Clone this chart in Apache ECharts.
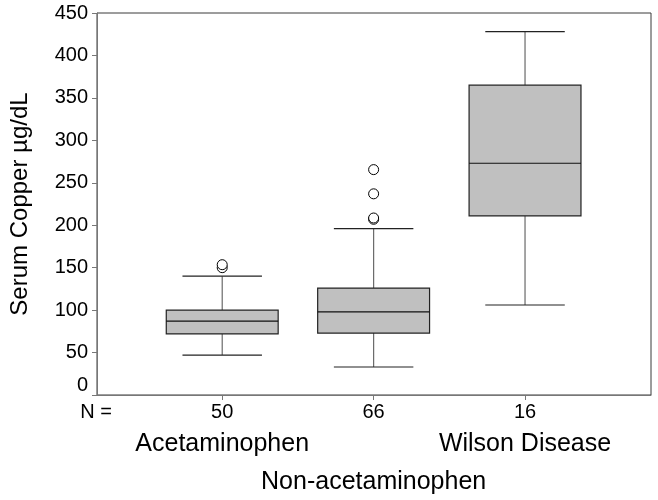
<!DOCTYPE html>
<html>
<head>
<meta charset="utf-8">
<script src="https://cdn.jsdelivr.net/npm/echarts@6/dist/echarts.min.js"></script>
<style>
html,body{margin:0;padding:0;background:#fff;}
#chart{width:658px;height:500px;}
</style>
</head>
<body>
<div id="chart"></div>
<script>
const categories = ['Acetaminophen', 'Non-acetaminophen', 'Wilson Disease'];
const nCounts = ['50', '66', '16'];
const whiskerLow = [47, 33, 106];
const q1 = [72, 73, 211];
const median = [87, 98, 273];
const q3 = [100, 126, 365];
const whiskerHigh = [140, 196, 428];
// outliers: [category index, value]
const outliers = [[0, 150], [0, 153.5], [1, 207], [1, 208.5], [1, 237], [1, 265.5]];
const yTicks = [0, 50, 100, 150, 200, 250, 300, 350, 400, 450];

const FONT = 'Liberation Sans';
const chart = echarts.init(document.getElementById('chart'), null, {renderer: 'canvas'});

const boxData = categories.map((c, i) => [i + 1, whiskerLow[i], q1[i], median[i], q3[i], whiskerHigh[i]]);
const outlierData = outliers.map(o => [o[0] + 1, o[1]]);
const X_MIN = 0.173, X_MAX = 3.832;

function renderBox(params, api) {
  const x = api.value(0);
  const lo = api.coord([x, api.value(1)]);
  const a = api.coord([x, api.value(2)]);
  const m = api.coord([x, api.value(3)]);
  const b = api.coord([x, api.value(4)]);
  const hi = api.coord([x, api.value(5)]);
  const unit = api.size([1, 0])[0];
  const bw = unit * 0.739;
  const cw = unit * 0.525;
  const cx = lo[0];
  const whiskerStyle = {stroke: '#6a6a6a', lineWidth: 1.2};
  const capStyle = {stroke: '#222', lineWidth: 1.2};
  return {
    type: 'group',
    children: [
      {type: 'line', shape: {x1: cx, y1: lo[1], x2: cx, y2: a[1]}, style: whiskerStyle},
      {type: 'line', shape: {x1: cx, y1: b[1], x2: cx, y2: hi[1]}, style: whiskerStyle},
      {type: 'line', shape: {x1: cx - cw / 2, y1: lo[1], x2: cx + cw / 2, y2: lo[1]}, style: capStyle},
      {type: 'line', shape: {x1: cx - cw / 2, y1: hi[1], x2: cx + cw / 2, y2: hi[1]}, style: capStyle},
      {type: 'rect', shape: {x: cx - bw / 2, y: b[1], width: bw, height: a[1] - b[1]},
        style: {fill: '#c0c0c0', stroke: '#222', lineWidth: 1.2}},
      {type: 'line', shape: {x1: cx - bw / 2, y1: m[1], x2: cx + bw / 2, y2: m[1]},
        style: {stroke: '#111', lineWidth: 1.2}}
    ]
  };
}

function labelAxis(values, margin, lineHeight) {
  return {
    type: 'value',
    gridIndex: 0,
    position: 'bottom',
    offset: 0,
    min: X_MIN,
    max: X_MAX,
    splitLine: {show: false},
    axisLine: {show: false},
    axisTick: {show: false},
    axisLabel: {
      show: true,
      customValues: values,
      hideOverlap: false,
      margin: margin,
      color: '#000',
      fontFamily: FONT,
      fontSize: 25,
      lineHeight: lineHeight,
      formatter: function (v) {
        const i = Math.round(v) - 1;
        return categories[i] || '';
      }
    }
  };
}

const option = {
  animation: false,
  backgroundColor: '#fff',
  textStyle: {fontFamily: FONT, color: '#000'},
  grid: {left: 97, right: 7, top: 13, bottom: 105, show: true, borderColor: '#3a3a3a', borderWidth: 1,
    containLabel: false, outerBoundsMode: 'none'},
  xAxis: [
    {
      type: 'value',
      position: 'bottom',
      min: X_MIN,
      max: X_MAX,
      name: 'N =',
      nameLocation: 'start',
      nameGap: -15,
      nameTextStyle: {fontFamily: FONT, fontSize: 20, color: '#000', align: 'right', verticalAlign: 'top', padding: [7, 0, 0, 0], lineHeight: 20},
      splitLine: {show: false},
      axisLine: {show: true, onZero: false, lineStyle: {color: '#777', width: 1}},
      axisTick: {show: true, customValues: [1, 2, 3], length: 5, lineStyle: {color: '#777'}},
      axisLabel: {
        show: true,
        customValues: [1, 2, 3],
        hideOverlap: false,
        margin: 7,
        color: '#000',
        fontFamily: FONT,
        fontSize: 20,
        lineHeight: 20,
        formatter: function (v) {
          const i = Math.round(v) - 1;
          return nCounts[i] || '';
        }
      }
    },
    labelAxis([1, 3], 27, 44),
    labelAxis([2], 75, 24)
  ],
  yAxis: {
    type: 'value',
    min: 0,
    max: 450,
    interval: 50,
    name: 'Serum Copper µg/dL',
    nameLocation: 'middle',
    nameGap: 65,
    nameTextStyle: {fontFamily: FONT, fontSize: 24, color: '#000'},
    splitLine: {show: false},
    axisLine: {show: true, lineStyle: {color: '#777', width: 1}},
    axisTick: {show: true, length: 5, lineStyle: {color: '#777'}},
    axisLabel: {
      margin: 9,
      color: '#000',
      fontFamily: FONT,
      fontSize: 20,
      hideOverlap: false,
      formatter: function (v) {
        if (yTicks.indexOf(v) < 0) return '';
        return v === 0 ? '{z|0}' : String(v);
      },
      rich: {
        z: {fontFamily: FONT, fontSize: 20, color: '#000', padding: [0, 0, 20, 0]}
      }
    }
  },
  series: [
    {
      type: 'custom',
      xAxisIndex: 0,
      renderItem: renderBox,
      encode: {x: 0, y: [1, 2, 3, 4, 5]},
      data: boxData,
      z: 2
    },
    {
      type: 'scatter',
      xAxisIndex: 0,
      symbol: 'circle',
      symbolSize: 10,
      itemStyle: {color: '#fff', borderColor: '#000', borderWidth: 1, opacity: 1},
      data: outlierData,
      z: 3
    }
  ]
};
chart.setOption(option);
</script>
</body>
</html>
